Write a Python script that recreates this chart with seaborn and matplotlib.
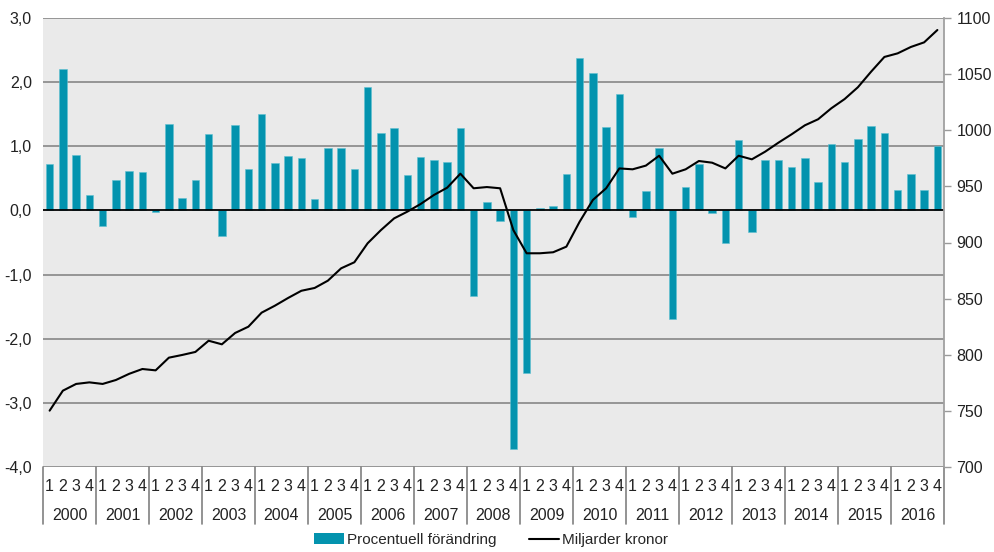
import numpy as np
import pandas as pd
import matplotlib
matplotlib.use("Agg")
import matplotlib.pyplot as plt
import matplotlib.transforms as mtransforms
from matplotlib.patches import Patch
from matplotlib.lines import Line2D
import seaborn as sns

years = [str(y) for y in range(2000, 2017)]
quarters = ["1", "2", "3", "4"]

pct_change = [
    0.73, 2.20, 0.86, 0.24,
    -0.24, 0.47, 0.61, 0.60,
    -0.02, 1.35, 0.19, 0.48,
    1.19, -0.40, 1.33, 0.65,
    1.50, 0.74, 0.85, 0.81,
    0.18, 0.97, 0.98, 0.65,
    1.93, 1.20, 1.29, 0.56,
    0.83, 0.78, 0.75, 1.29,
    -1.34, 0.13, -0.17, -3.72,
    -2.53, 0.04, 0.07, 0.57,
    2.37, 2.15, 1.30, 1.81,
    -0.10, 0.30, 0.98, -1.70,
    0.37, 0.73, -0.04, -0.51,
    1.10, -0.34, 0.79, 0.78,
    0.68, 0.82, 0.45, 1.03,
    0.75, 1.12, 1.32, 1.21,
    0.32, 0.57, 0.32, 1.01,
]

billions_sek = [
    750.2, 768.0, 774.0, 775.4,
    774.0, 777.5, 783.0, 787.3,
    786.1, 797.4, 799.8, 802.5,
    812.5, 809.3, 819.4, 825.0,
    837.5, 843.7, 850.6, 857.0,
    859.5, 866.0, 877.0, 882.4,
    899.3, 911.0, 921.5, 927.5,
    934.3, 942.3, 948.8, 961.3,
    948.3, 949.4, 948.3, 911.0,
    890.4, 890.4, 891.3, 896.3,
    918.5, 937.9, 948.3, 966.0,
    965.2, 968.5, 977.3, 961.3,
    965.2, 972.6, 971.1, 966.0,
    977.3, 974.1, 980.9, 988.9,
    996.4, 1004.4, 1009.8, 1019.6,
    1027.8, 1038.3, 1052.2, 1065.3,
    1068.5, 1074.2, 1078.3, 1089.3,
]

left_ticks = [3, 2, 1, 0, -1, -2, -3, -4]
left_labels = ["3,0", "2,0", "1,0", "0,0", "-1,0", "-2,0", "-3,0", "-4,0"]
right_ticks = [700, 750, 800, 850, 900, 950, 1000, 1050, 1100]

bar_label = "Procentuell förändring"
line_label = "Miljarder kronor"

n = len(pct_change)
df = pd.DataFrame({
    "idx": np.arange(n),
    "pct": pct_change,
    "sek": billions_sek,
})

sns.set_theme(style="white")
plt.rcParams["font.family"] = ["Liberation Sans Narrow", "Liberation Sans", "DejaVu Sans"]

BAR_COLOR = "#0393AE"
GRID_COLOR = "#8f8f8f"
TEXT_COLOR = "#222222"

fig = plt.figure(figsize=(9.94, 5.52), dpi=100)
ax = fig.add_axes([43 / 994, 1 - 467 / 552, (944 - 43) / 994, (467 - 18) / 552])
ax.set_facecolor("#EAEAEA")

sns.barplot(data=df, x="idx", y="pct", ax=ax, color=BAR_COLOR, width=0.56,
            saturation=1, edgecolor="#5fc0d2", linewidth=0.4, native_scale=True)

ax.set_xlim(-0.5, n - 0.5)
ax.set_ylim(-4, 3)
ax.set_yticks(left_ticks)
ax.set_yticklabels(left_labels, fontsize=11.5, color=TEXT_COLOR)
ax.tick_params(axis="y", length=0, pad=8)
ax.set_xticks([])
ax.set_xlabel("")
ax.set_ylabel("")
for s in ["left", "top", "right", "bottom"]:
    ax.spines[s].set_visible(False)

for t in left_ticks:
    if t == 0:
        continue
    ax.axhline(t, color=GRID_COLOR, lw=1.3, zorder=0.5)
ax.axhline(0, color="black", lw=1.3, zorder=3)

ax2 = ax.twinx()
sns.lineplot(data=df, x="idx", y="sek", ax=ax2, color="black", lw=1.5)
ax2.set_ylim(700, 1100)
ax2.set_xlim(-0.5, n - 0.5)
ax2.set_yticks(right_ticks)
ax2.set_yticklabels([str(t) for t in right_ticks], fontsize=11.5, color=TEXT_COLOR)
ax2.tick_params(axis="y", length=5, width=1, color="#9a9a9a", pad=4, right=True)
ax2.set_ylabel("")
ax2.set_xlabel("")
for s in ["left", "top", "bottom"]:
    ax2.spines[s].set_visible(False)
ax2.spines["right"].set_color("#a0a0a0")
ax2.spines["right"].set_linewidth(1.3)

# category axis
trans = mtransforms.blended_transform_factory(ax.transData, ax.transAxes)
for i in range(n):
    ax.text(i, -0.043, quarters[i % 4], transform=trans, ha="center", va="center",
            fontsize=11.5, color=TEXT_COLOR, clip_on=False)
for k, y in enumerate(years):
    ax.text(4 * k + 1.5, -0.108, y, transform=trans, ha="center", va="center",
            fontsize=11.5, color=TEXT_COLOR, clip_on=False)
for k in range(len(years) + 1):
    ax.add_line(Line2D([4 * k - 0.5, 4 * k - 0.5], [0, -0.127], transform=trans,
                       color="#808080", lw=1.2, clip_on=False))

handles = [Patch(facecolor=BAR_COLOR, edgecolor="none", label=bar_label),
           Line2D([0], [0], color="black", lw=1.5, label=line_label)]
fig.legend(handles=handles, loc="center", bbox_to_anchor=(491 / 994, 1 - 540 / 552),
           ncol=2, frameon=False, fontsize=11, handlelength=2.0, handletextpad=0.2,
           columnspacing=2.1, borderpad=0, borderaxespad=0)

fig.savefig("out.png", dpi=100)
